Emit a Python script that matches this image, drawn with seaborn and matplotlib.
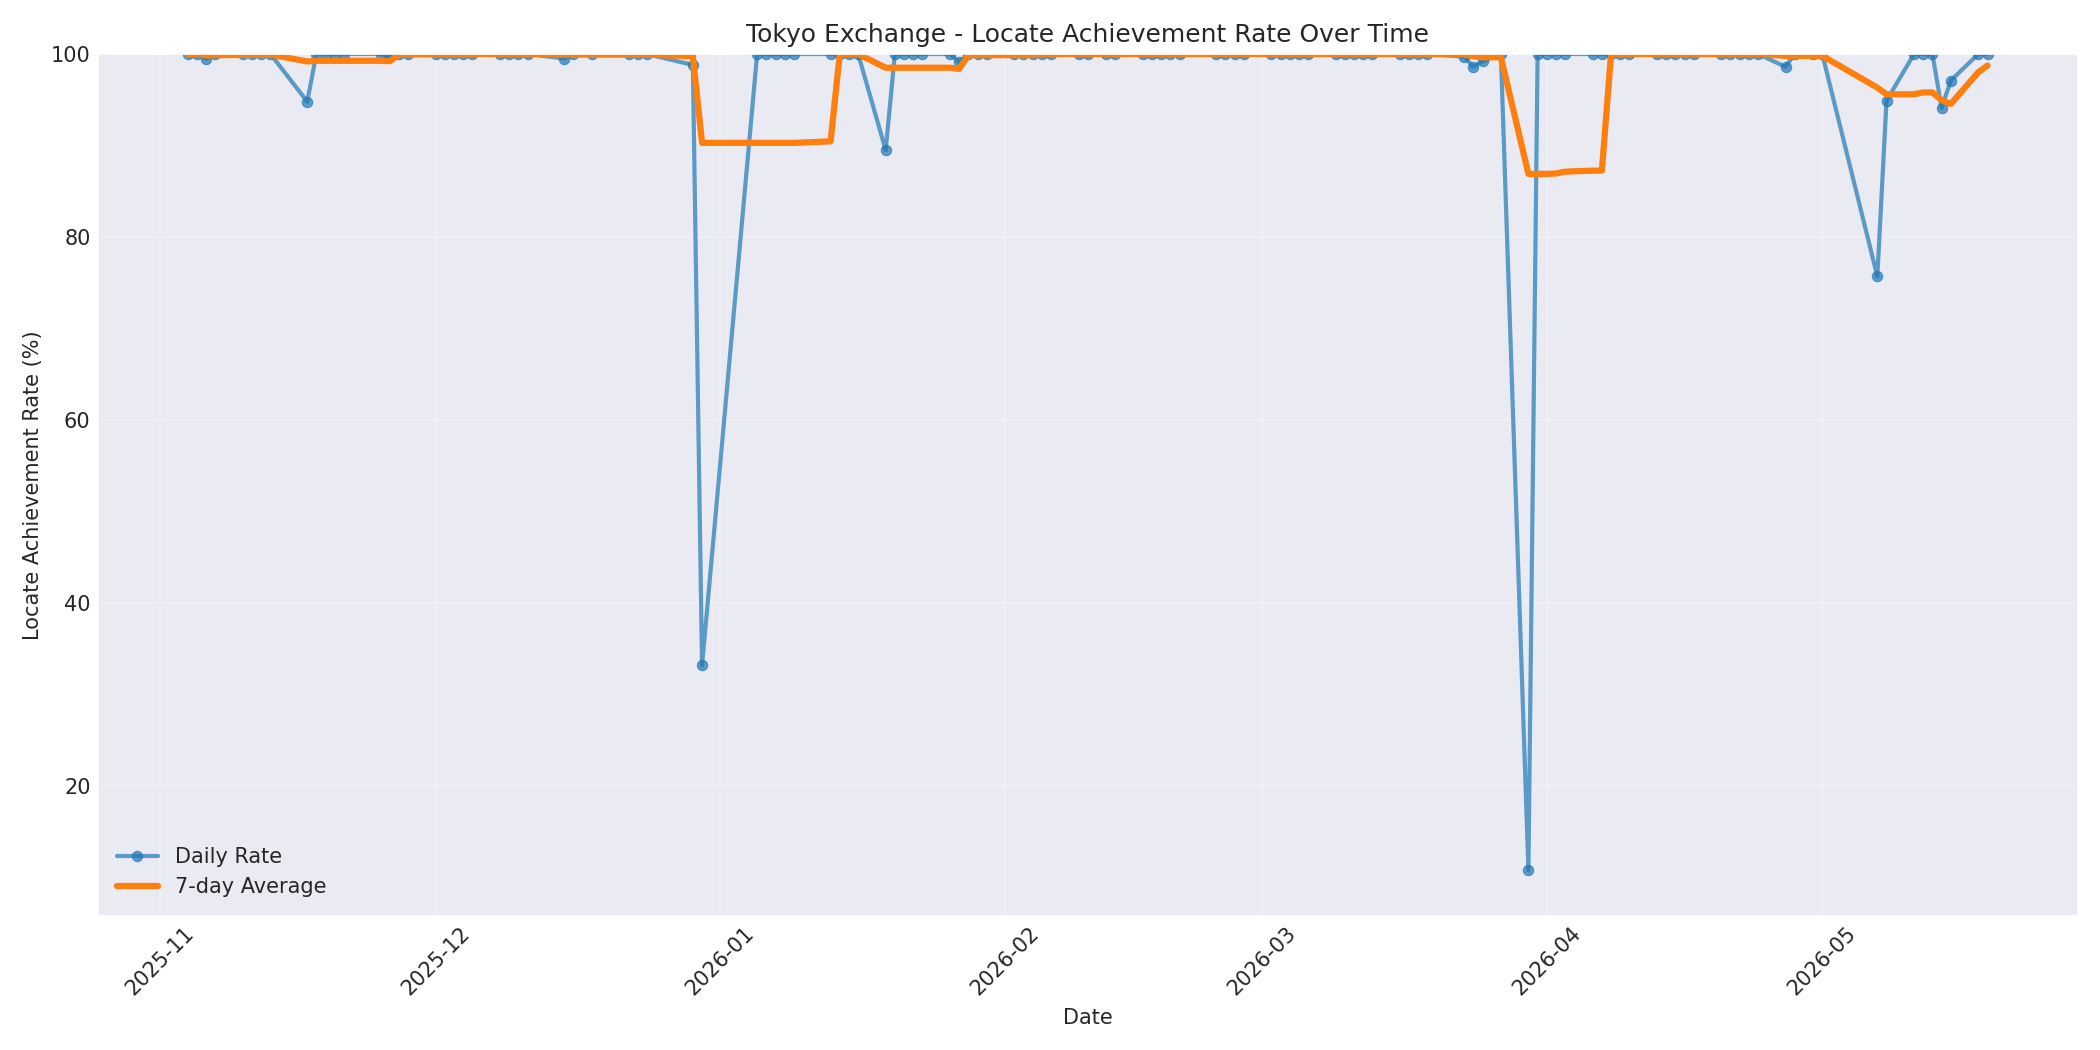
import matplotlib
matplotlib.use("Agg")
import matplotlib.pyplot as plt
import seaborn as sns
import pandas as pd

nov_dates = ["2025-11-04", "2025-11-05", "2025-11-06", "2025-11-07",
             "2025-11-10", "2025-11-11", "2025-11-12", "2025-11-13",
             "2025-11-17", "2025-11-18", "2025-11-19", "2025-11-20", "2025-11-21",
             "2025-11-25", "2025-11-26", "2025-11-27", "2025-11-28"]
nov_rates = [100, 100, 99.5, 100,
             100, 100, 100, 100,
             94.8, 100, 100, 100, 100,
             100, 99.7, 100, 100]

dec_dates = ["2025-12-01", "2025-12-02", "2025-12-03", "2025-12-04", "2025-12-05",
             "2025-12-08", "2025-12-09", "2025-12-10", "2025-12-11",
             "2025-12-15", "2025-12-16", "2025-12-18",
             "2025-12-22", "2025-12-23", "2025-12-24",
             "2025-12-29", "2025-12-30"]
dec_rates = [100, 100, 100, 100, 100,
             100, 100, 100, 100,
             99.5, 100, 100,
             100, 100, 100,
             98.8, 33.2]

jan_dates = ["2026-01-05", "2026-01-06", "2026-01-07", "2026-01-08", "2026-01-09",
             "2026-01-13", "2026-01-14", "2026-01-15", "2026-01-16",
             "2026-01-19", "2026-01-20", "2026-01-21", "2026-01-22", "2026-01-23",
             "2026-01-26", "2026-01-27", "2026-01-28", "2026-01-29", "2026-01-30"]
jan_rates = [100, 100, 100, 100, 100,
             100, 100, 100, 100,
             89.5, 100, 100, 100, 100,
             100, 99.1, 100, 100, 100]

feb_dates = ["2026-02-02", "2026-02-03", "2026-02-04", "2026-02-05", "2026-02-06",
             "2026-02-09", "2026-02-10", "2026-02-12", "2026-02-13",
             "2026-02-16", "2026-02-17", "2026-02-18", "2026-02-19", "2026-02-20",
             "2026-02-24", "2026-02-25", "2026-02-26", "2026-02-27"]
feb_rates = [100, 100, 100, 100, 100,
             100, 100, 100, 100,
             100, 100, 100, 100, 100,
             100, 100, 100, 100]

mar_dates = ["2026-03-02", "2026-03-03", "2026-03-04", "2026-03-05", "2026-03-06",
             "2026-03-09", "2026-03-10", "2026-03-11", "2026-03-12", "2026-03-13",
             "2026-03-16", "2026-03-17", "2026-03-18", "2026-03-19",
             "2026-03-23", "2026-03-24", "2026-03-25", "2026-03-27",
             "2026-03-30", "2026-03-31"]
mar_rates = [100, 100, 100, 100, 100,
             100, 100, 100, 100, 100,
             100, 100, 100, 100,
             99.7, 98.6, 99.2, 100,
             10.8, 100]

apr_dates = ["2026-04-01", "2026-04-02", "2026-04-03",
             "2026-04-06", "2026-04-07", "2026-04-08", "2026-04-09", "2026-04-10",
             "2026-04-13", "2026-04-14", "2026-04-15", "2026-04-16", "2026-04-17",
             "2026-04-20", "2026-04-21", "2026-04-22", "2026-04-23", "2026-04-24",
             "2026-04-27", "2026-04-28", "2026-04-30"]
apr_rates = [100, 100, 100,
             100, 100, 100, 100, 100,
             100, 100, 100, 100, 100,
             100, 100, 100, 100, 100,
             98.6, 100, 100]

may_dates = ["2026-05-01", "2026-05-07", "2026-05-08",
             "2026-05-11", "2026-05-12", "2026-05-13", "2026-05-14", "2026-05-15",
             "2026-05-18", "2026-05-19"]
may_rates = [100, 75.7, 94.9,
             100, 100, 100, 94.1, 97.1,
             100, 100]

all_dates = nov_dates + dec_dates + jan_dates + feb_dates + mar_dates + apr_dates + may_dates
all_rates = nov_rates + dec_rates + jan_rates + feb_rates + mar_rates + apr_rates + may_rates

df = pd.DataFrame({"date": pd.to_datetime(all_dates), "rate": all_rates})
df["avg7"] = df["rate"].rolling(window=7, min_periods=1).mean()

sns.set_style("darkgrid")
plt.rcParams["font.family"] = ["DejaVu Sans"]
plt.rcParams["xtick.major.size"] = 0
plt.rcParams["ytick.major.size"] = 0
plt.rcParams["xtick.minor.size"] = 0
plt.rcParams["ytick.minor.size"] = 0

fig, ax = plt.subplots(figsize=(14, 7), dpi=150)

sns.lineplot(data=df, x="date", y="rate", ax=ax, marker="o", markersize=5,
             linewidth=2, alpha=0.7, color="#1f77b4",
             markeredgecolor="#1f77b4", markeredgewidth=0.5, label="Daily Rate")
sns.lineplot(data=df, x="date", y="avg7", ax=ax, linewidth=3, color="#ff7f0e",
             label="7-day Average")

ax.set_title("Tokyo Exchange - Locate Achievement Rate Over Time", fontsize=12)
ax.set_xlabel("Date", fontsize=10)
ax.set_ylabel("Locate Achievement Rate (%)", fontsize=10)
ax.tick_params(labelsize=10)
ax.set_ylim(min(all_rates) - 5, 100)
ax.grid(True, alpha=0.3)
ax.legend(loc="lower left", frameon=False, fontsize=10)
plt.setp(ax.get_xticklabels(), rotation=45)

fig.tight_layout()
fig.savefig("out.png", dpi=150)
